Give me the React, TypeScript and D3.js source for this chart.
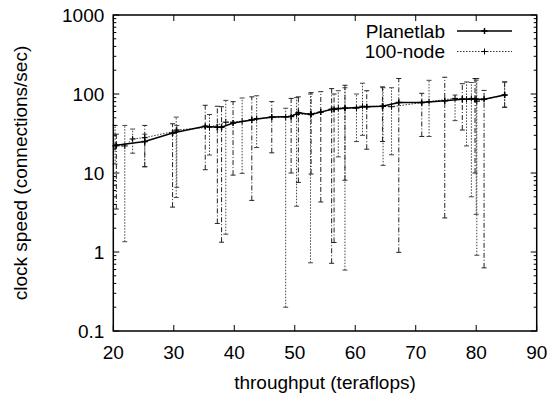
import React from "react";
import * as d3 from "d3";

// Planetlab series: throughput, clock speed, low, high
const planetX = [20.5, 25.2, 29.8, 35.2, 37.2, 37.9, 39.8, 42.9, 46.2, 49.4, 50.6, 52.7, 54.3, 56.1, 56.5, 58.3, 61.9, 64.5, 67.2, 71.0, 74.8, 77.7, 79.8, 81.3, 84.7];
const planetY = [22.5, 25, 32, 39, 38, 38, 43, 47, 51, 52, 58, 55, 59, 64, 64, 66, 69, 70, 78, 78, 82, 86, 86, 86, 97];
const planetLo = [3.5, 12, 3.7, 11, 2.3, 1.33, 9.4, 4.5, 18, 10, 7.6, 9.7, 4.3, 0.72, 1.32, 8.1, 20, 25, 0.99, 29, 2.7, 35, 10, 0.63, 68];
const planetHi = [31, 40, 42, 72, 70, 69, 80, 92, 80, 88, 92, 104, 107, 117, 100, 129, 110, 123, 157, 102, 163, 135, 157, 111, 142];

// 100-node series
const nodeX = [20.3, 21.9, 23.2, 25.2, 30.4, 30.5, 35.9, 38.6, 41.3, 43.7, 48.5, 50.3, 52.6, 57.2, 58.3, 60.2, 61.2, 64.6, 66.0, 72.2, 76.5, 78.4, 79.2, 80.0, 80.1, 84.7];
const nodeY = [22, 22, 27, 28, 34, 35, 38, 44, 45, 49, 51, 55, 56, 66, 66, 66, 70, 70, 69, 80, 88, 86, 88, 86, 81, 97];
const nodeLo = [13, 1.35, 17.8, 12, 4.9, 6.6, 16.9, 1.68, 9.9, 21, 0.2, 3.8, 0.73, 16, 0.59, 25, 30, 12.5, 17, 29, 46, 22, 5.0, 3.0, 0.91, 68];
const nodeHi = [40, 40, 36, 31, 51, 40, 55, 83, 89, 95, 66, 90, 100, 110, 120, 100, 137, 120, 120, 149, 97, 142, 140, 150, 157, 142];

const xTicks = [20, 30, 40, 50, 60, 70, 80, 90];
const yTicks = [0.1, 1, 10, 100, 1000];
const yTickLabels = ["0.1", "1", "10", "100", "1000"];
const seriesNames = ["Planetlab", "100-node"];

const W = 552, H = 396;
const L = 113.3, R = 536.7, T = 15, B = 331;
const FONT = "'Liberation Sans', Arial, Helvetica, sans-serif";
const FS = 19;

export default function App() {
  const x = d3.scaleLinear().domain([20, 90]).range([L, R]);
  const y = d3.scaleLog().domain([0.1, 1000]).range([B, T]);

  const planet = planetX.map((v, i) => ({ x: v, y: planetY[i], lo: planetLo[i], hi: planetHi[i] }));
  const node = nodeX.map((v, i) => ({ x: v, y: nodeY[i], lo: nodeLo[i], hi: nodeHi[i] }));

  const line = d3.line<any>().x((d) => x(d.x)).y((d) => y(d.y));

  const minor: number[] = [];
  for (let e = -1; e < 3; e++) for (let m = 2; m <= 9; m++) minor.push(m * Math.pow(10, e));

  const plus = (cx: number, cy: number, k: string, sw: number) => (
    <g key={k} stroke="#000" strokeWidth={sw}>
      <line x1={cx - 3} x2={cx + 3} y1={cy} y2={cy} />
      <line x1={cx} x2={cx} y1={cy - 3} y2={cy + 3} />
    </g>
  );

  const errBars = (data: any[], dash: string, color: string, key: string) =>
    data.map((d, i) => {
      const cx = x(d.x);
      return (
        <g key={key + i} stroke={color} strokeWidth={1} fill="none">
          <line x1={cx} x2={cx} y1={y(d.lo)} y2={y(d.hi)} strokeDasharray={dash} />
          <line x1={cx - 2.5} x2={cx + 2.5} y1={y(d.lo)} y2={y(d.lo)} />
          <line x1={cx - 2.5} x2={cx + 2.5} y1={y(d.hi)} y2={y(d.hi)} />
        </g>
      );
    });

  return (
    <svg width={W} height={H} style={{ position: "absolute", left: 0, top: 0 }} fontFamily={FONT}>
      <rect width={W} height={H} fill="#fff" />
      {/* error bars */}
      {errBars(node, "1.5,1.5", "#444", "ne")}
      {errBars(planet, "5,2,1,2", "#222", "pe")}
      {/* lines */}
      <path d={line(node) || ""} fill="none" stroke="#333" strokeWidth={1} strokeDasharray="1.5,1.5" />
      <path d={line(planet) || ""} fill="none" stroke="#000" strokeWidth={1.5} />
      {node.map((d, i) => plus(x(d.x), y(d.y), "np" + i, 1))}
      {planet.map((d, i) => plus(x(d.x), y(d.y), "pp" + i, 1.5))}

      {/* frame */}
      <rect x={L} y={T} width={R - L} height={B - T} fill="none" stroke="#000" strokeWidth={1.5} />
      {/* x ticks */}
      {xTicks.map((t) => (
        <g key={"xt" + t}>
          <line x1={x(t)} x2={x(t)} y1={B} y2={B - 6} stroke="#000" />
          <line x1={x(t)} x2={x(t)} y1={T} y2={T + 6} stroke="#000" />
          <text x={x(t)} y={B + 28} textAnchor="middle" fontSize={FS}>{t}</text>
        </g>
      ))}
      {/* y ticks */}
      {yTicks.map((t, i) => (
        <g key={"yt" + t}>
          <line x1={L} x2={L + 6} y1={y(t)} y2={y(t)} stroke="#000" />
          <line x1={R} x2={R - 6} y1={y(t)} y2={y(t)} stroke="#000" />
          <text x={L - 9} y={y(t)} dy="0.36em" textAnchor="end" fontSize={FS}>{yTickLabels[i]}</text>
        </g>
      ))}
      {minor.map((t, i) => (
        <g key={"mt" + i} stroke="#000">
          <line x1={L} x2={L + 3} y1={y(t)} y2={y(t)} />
          <line x1={R} x2={R - 3} y1={y(t)} y2={y(t)} />
        </g>
      ))}

      {/* axis titles */}
      <text x={(L + R) / 2} y={389} textAnchor="middle" fontSize={FS}>throughput (teraflops)</text>
      <text transform={`translate(27,${(T + B) / 2}) rotate(-90)`} textAnchor="middle" fontSize={FS}>clock speed (connections/sec)</text>

      {/* legend */}
      <text x={445} y={31} dy="0.36em" textAnchor="end" fontSize={FS}>{seriesNames[0]}</text>
      <line x1={457} x2={512} y1={31} y2={31} stroke="#000" strokeWidth={1.5} />
      {plus(484.5, 31, "lg1", 1.5)}
      <text x={445} y={51.5} dy="0.36em" textAnchor="end" fontSize={FS}>{seriesNames[1]}</text>
      <line x1={457} x2={512} y1={51.5} y2={51.5} stroke="#333" strokeWidth={1} strokeDasharray="1.5,1.5" />
      {plus(484.5, 51.5, "lg2", 1)}
    </svg>
  );
}
